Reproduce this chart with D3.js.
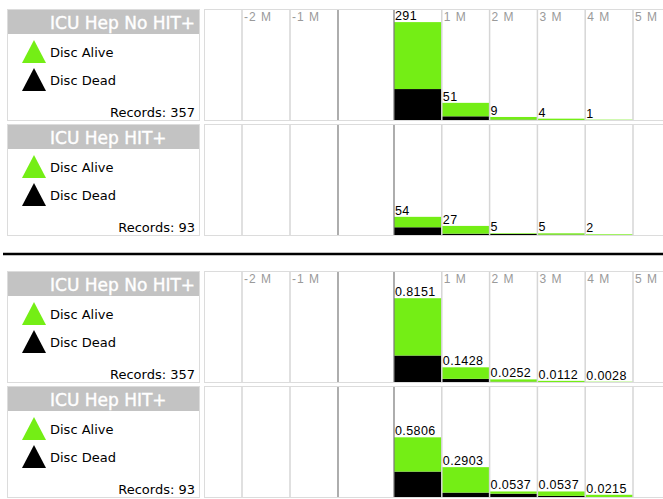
<!DOCTYPE html>
<html>
<head>
<meta charset="utf-8">
<title>ICU Hep HIT+</title>
<script src="https://d3js.org/d3.v7.min.js"></script>
<style>
  body { margin: 0; background: #fff; }
  text { font-family: "DejaVu Sans", sans-serif; }
</style>
</head>
<body>
<script>
// data
const groupNames = ["ICU Hep No HIT+", "ICU Hep HIT+"];
const records = [357, 93];
const binStarts = [0, 1, 2, 3, 4];          // months
const aliveNoHit = [199, 40, 8, 4, 1];
const deadNoHit = [92, 11, 1, 0, 0];
const aliveHit = [31, 23, 2, 4, 2];
const deadHit = [23, 4, 3, 1, 0];
const legendKeys = ["Disc Alive", "Disc Dead"];
const tickValues = [-2, -1, 1, 2, 3, 4, 5];
const tickLabels = ["-2 M", "-1 M", "1 M", "2 M", "3 M", "4 M", "5 M"];
const markerValues = [-0.5, 0];

const colors = { alive: "#74ee15", dead: "#000000" };

const W = 663, H = 499;
const svg = d3.select("body").append("svg")
    .attr("width", W).attr("height", H);

// layout
const legendX = 7, legendW = 192;
const chartX = 204, chartR = 663;
const rowH = 112, rowGap = 115;
const sectionTops = [9, 271];
const headerH = 24;

// months -> px (axis is compressed left of zero)
const x = d3.scaleLinear()
    .domain([-2, -1, -0.5, 0, 5])
    .range([242, 290, 338, 394, 633]);

const groups = [
  { alive: aliveNoHit, dead: deadNoHit },
  { alive: aliveHit, dead: deadHit }
];

const sections = [
  { mode: "count", yMax: 330 },
  { mode: "fraction", yMax: 1.08 }
];

const stack = d3.stack().keys(["dead", "alive"]);
const trunc4 = v => (Math.floor(v * 10000 + 1e-9) / 10000).toFixed(4);

sections.forEach((sec, si) => {
  groups.forEach((grp, gi) => {
    const top = sectionTops[si] + gi * rowGap;
    const bottom = top + rowH - 1;
    const div = sec.mode === "count" ? 1 : records[gi];

    const rows = binStarts.map((m, i) => ({
      m: m,
      alive: grp.alive[i] / div,
      dead: grp.dead[i] / div,
      total: (grp.alive[i] + grp.dead[i]) / div
    }));

    const y = d3.scaleLinear().domain([0, sec.yMax]).range([bottom, top]);

    // legend panel
    const lg = svg.append("g");
    lg.append("rect")
        .attr("x", legendX + 0.5).attr("y", top + 0.5)
        .attr("width", legendW).attr("height", rowH - 1)
        .attr("fill", "#fff").attr("stroke", "#dcdcdc");
    lg.append("rect")
        .attr("x", legendX + 1).attr("y", top + 1)
        .attr("width", legendW - 1).attr("height", headerH)
        .attr("fill", "#c3c3c3");
    lg.append("text")
        .attr("x", 50)
        .attr("y", top + headerH - 4)
        .attr("fill", "#fff")
        .attr("stroke", "#fff").attr("stroke-width", 0.4)
        .style("font-size", "17px")
        .text(groupNames[gi]);

    legendKeys.forEach((k, ki) => {
      const cy = top + 43 + ki * 28;
      lg.append("path")
          .attr("d", `M${legendX + 15},${cy + 11}L${legendX + 27},${cy - 12}L${legendX + 39},${cy + 11}Z`)
          .attr("fill", ki === 0 ? colors.alive : colors.dead);
      lg.append("text")
          .attr("x", legendX + 43).attr("y", cy + 5)
          .style("font-size", "13px")
          .text(k);
    });
    lg.append("text")
        .attr("x", legendX + legendW - 4).attr("y", bottom - 3)
        .attr("text-anchor", "end")
        .style("font-size", "13px")
        .text("Records: " + records[gi]);

    // chart panel
    const g = svg.append("g");
    g.append("rect")
        .attr("x", chartX + 0.5).attr("y", top + 0.5)
        .attr("width", chartR - chartX).attr("height", rowH - 1)
        .attr("fill", "#fff").attr("stroke", "#dcdcdc");

    // bars
    const series = stack(rows);
    g.selectAll(null)
      .data(series)
      .join("g")
        .attr("fill", d => colors[d.key])
      .selectAll("rect")
      .data(d => d)
      .join("rect")
        .attr("x", d => x(d.data.m))
        .attr("width", d => x(d.data.m + 1) - x(d.data.m))
        .attr("y", d => y(d[1]))
        .attr("height", d => y(d[0]) - y(d[1]));

    // grid
    g.selectAll(null)
      .data(tickValues)
      .join("line")
        .attr("x1", d => x(d)).attr("x2", d => x(d))
        .attr("y1", top + 1).attr("y2", bottom)
        .attr("stroke", "#d6d6d6").attr("stroke-width", 1.5);
    g.selectAll(null)
      .data(markerValues)
      .join("line")
        .attr("x1", d => x(d)).attr("x2", d => x(d))
        .attr("y1", top + 1).attr("y2", bottom)
        .attr("stroke", "#777").attr("stroke-width", 1.2);

    // tick labels (only in first row)
    if (gi === 0) {
      g.selectAll(null)
        .data(tickValues)
        .join("text")
          .attr("x", d => x(d) + 2)
          .attr("y", top + 12)
          .attr("fill", "#9a9a9a")
          .style("font-family", "'Liberation Sans', Arial, sans-serif")
          .style("font-size", "12px")
          .style("letter-spacing", "1px")
          .text((d, i) => tickLabels[i]);
    }

    // value labels
    g.selectAll(null)
      .data(rows)
      .join("text")
        .attr("x", d => x(d.m) + 1)
        .attr("y", d => y(d.total) - 2)
        .style("font-family", "'Liberation Sans', Arial, sans-serif")
        .style("font-size", "12.5px")
        .style("letter-spacing", "0.4px")
        .text(d => sec.mode === "count" ? d.total : trunc4(d.total));
  });
});

// separator
svg.append("line")
    .attr("x1", 3).attr("x2", W)
    .attr("y1", 254).attr("y2", 254)
    .attr("stroke", "#000").attr("stroke-width", 2.5);
</script>
</body>
</html>
